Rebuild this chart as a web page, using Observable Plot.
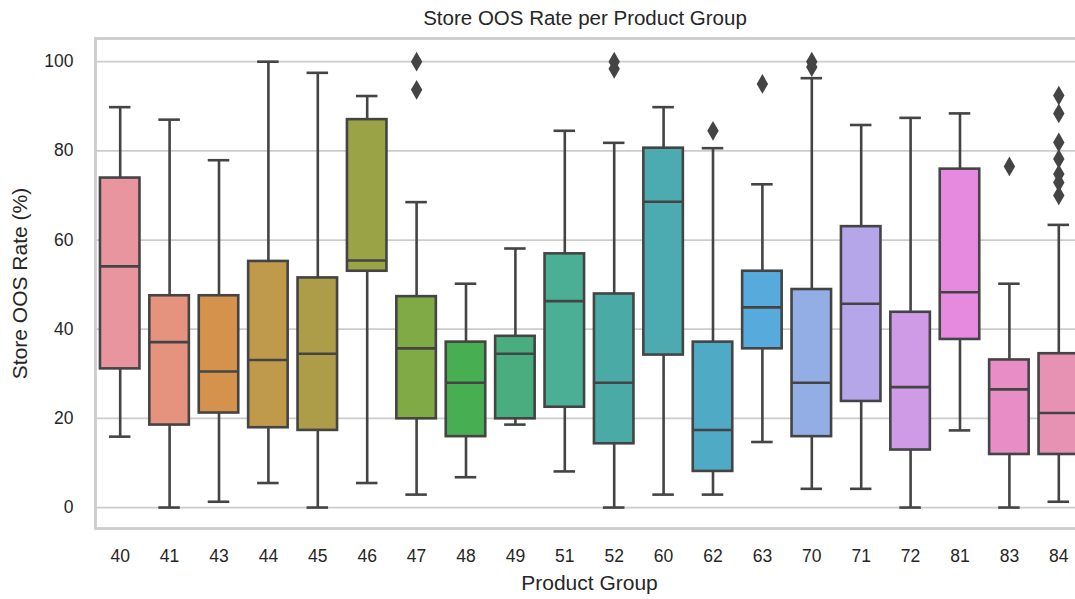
<!DOCTYPE html>
<html>
<head>
<meta charset="utf-8">
<script src="https://cdn.jsdelivr.net/npm/d3@7"></script>
<script src="https://cdn.jsdelivr.net/npm/@observablehq/plot@0.6"></script>
<style>
  html, body { margin: 0; padding: 0; background: #fff; overflow: hidden; width: 1075px; height: 599px; }
  #title { height: 34px; line-height: 36px; padding-left: 95px; width: 980px; text-align: center;
           font-family: "Liberation Sans", Arial, sans-serif; font-size: 20.5px; color: #262626; }
  #chart svg { display: block; max-width: none !important; }
</style>
</head>
<body>
<div id="title">Store OOS Rate per Product Group</div>
<div id="chart"></div>
<script>
// Data
const groups      = ["40","41","43","44","45","46","47","48","49","51","52","60","62","63","70","71","72","81","83","84"];
const whiskerLow  = [15.9, 0.0, 1.3, 5.5, 0.0, 5.5, 2.9, 6.8, 18.6, 8.1, 0.0, 2.9, 2.9, 14.7, 4.2, 4.2, 0.0, 17.3, 0.0, 1.3];
const q1          = [31.1, 18.5, 21.2, 17.9, 17.3, 53.0, 19.9, 15.9, 19.9, 22.5, 14.3, 34.2, 8.1, 35.6, 15.9, 23.8, 12.9, 37.7, 11.9, 11.9];
const median      = [54.1, 37.1, 30.5, 33.1, 34.5, 55.4, 35.7, 28.0, 34.5, 46.3, 28.0, 68.6, 17.4, 44.9, 28.0, 45.7, 27.0, 48.3, 26.5, 21.2];
const q3          = [73.9, 47.5, 47.5, 55.2, 51.5, 87.0, 47.3, 37.1, 38.4, 56.9, 47.9, 80.6, 37.1, 53.0, 48.9, 63.0, 43.8, 75.9, 33.1, 34.5];
const whiskerHigh = [89.8, 87.0, 77.9, 100.0, 97.5, 92.3, 68.5, 50.2, 58.1, 84.5, 81.8, 89.8, 80.6, 72.5, 96.3, 85.8, 87.4, 88.4, 50.2, 63.4];

const outlierGroups = ["47","47","52","52","62","63","70","70","83","84","84","84","84","84","84","84"];
const outlierValues = [100, 93.7, 100, 98.4, 84.5, 95.0, 100, 98.8, 76.5, 92.4, 88.4, 81.9, 78.2, 74.8, 72.9, 70.0];

const palette = ["#e8959f","#e5937f","#d5924c","#bf9a4b","#ad9c48","#9aa346","#7faa46","#48ae52","#4aad80","#4aaf95",
                 "#4aaaa5","#4cabb1","#4faac5","#57abdc","#93aee4","#b5a6ea","#cf9ae6","#e68ae0","#e88dc6","#e892b3"];

const yTicks = [0, 20, 40, 60, 80, 100];
const xLabel = "Product Group";
const yLabel = "Store OOS Rate (%)";

const stats = groups.map((g, i) => ({
  group: g, lo: whiskerLow[i], q1: q1[i], median: median[i], q3: q3[i], hi: whiskerHigh[i]
}));
const outliers = outlierGroups.map((g, i) => ({group: g, value: outlierValues[i]}));

const edge = "#444444";
const lw = 2.6;

const chart = Plot.plot({
  width: 1083,
  height: 565,
  marginTop: 4,
  marginBottom: 71,
  marginLeft: 95,
  marginRight: 0,
  style: {fontFamily: "'Liberation Sans', Arial, sans-serif", fontSize: "17.5px", color: "#262626", background: "#fff", maxWidth: "none"},
  x: {domain: groups, paddingInner: 0.2, paddingOuter: 0.1, round: false, label: null},
  y: {domain: [-4.7, 105.2], label: null},
  color: {type: "ordinal", domain: groups, range: palette},
  marks: [
    Plot.gridY(yTicks, {stroke: "#cccccc", strokeOpacity: 1, strokeWidth: 1.8}),
    Plot.frame({stroke: "#cccccc", strokeWidth: 2.8}),
    Plot.axisY(yTicks, {tickSize: 0, tickPadding: 22, fontSize: 17.5, label: null}),
    Plot.axisX({tickSize: 0, tickPadding: 21, fontSize: 17.5, label: null}),
    Plot.text([yLabel], {frameAnchor: "left", textAnchor: "middle", lineAnchor: "middle", rotate: -90, dx: -75, fontSize: 21, fill: "#262626"}),
    Plot.text([xLabel], {frameAnchor: "bottom", textAnchor: "middle", lineAnchor: "middle", dy: 55, fontSize: 21, fill: "#262626"}),
    Plot.ruleX(stats, {x: "group", y1: "lo", y2: "hi", stroke: edge, strokeWidth: lw}),
    Plot.barY(stats, {x: "group", y1: "q1", y2: "q3", fill: "group", stroke: edge, strokeWidth: lw}),
    Plot.tickY(stats, {x: "group", y: "median", stroke: edge, strokeWidth: lw}),
    Plot.tickY(stats, {x: "group", y: "lo", stroke: edge, strokeWidth: lw, insetLeft: 9, insetRight: 9}),
    Plot.tickY(stats, {x: "group", y: "hi", stroke: edge, strokeWidth: lw, insetLeft: 9, insetRight: 9}),
    Plot.dot(outliers, {x: "group", y: "value", symbol: "diamond", fill: edge, stroke: "none", r: 6})
  ]
});
document.getElementById("chart").appendChild(chart);
</script>
</body>
</html>
